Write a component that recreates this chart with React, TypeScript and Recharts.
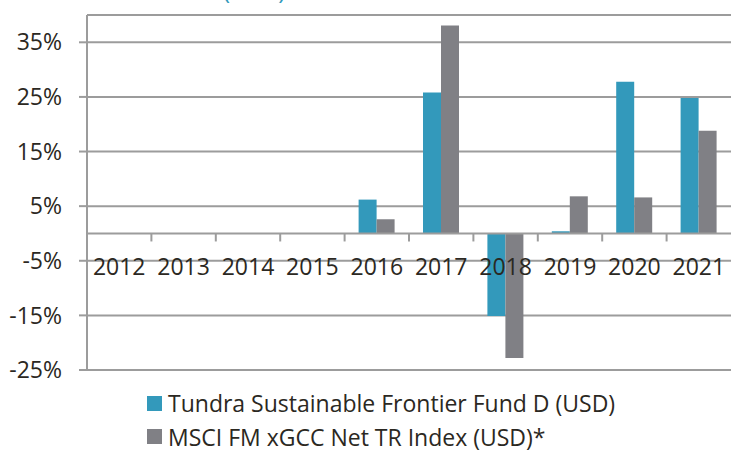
import React from 'react';
import { BarChart, Bar, XAxis, YAxis, CartesianGrid, ReferenceLine, Legend } from 'recharts';

const years = ['2012', '2013', '2014', '2015', '2016', '2017', '2018', '2019', '2020', '2021'];
const fundReturns = [null, null, null, null, 6.2, 25.8, -15.1, 0.4, 27.8, 24.8];
const indexReturns = [null, null, null, null, 2.6, 38.1, -22.8, 6.8, 6.6, 18.8];
const yTicks = [-25, -15, -5, 5, 15, 25, 35];

const FUND_NAME = 'Tundra Sustainable Frontier Fund D (USD)';
const INDEX_NAME = 'MSCI FM xGCC Net TR Index (USD)*';

const BLUE = '#3399bb';
const GREY = '#808085';
const TEXT = '#2b2822';
const LINE = '#9c9c9c';
const FONT = '"Open Sans", sans-serif';

// plot geometry (fixed so the year labels can sit on the zero line)
const W = 734;
const H = 452;
const TOP = 15;
const BOTTOM = 370;
const LEFT = 87;
const RIGHT = 731;
const X_AXIS_H = 20;
const DOMAIN: [number, number] = [-25, 40];
const zeroY = TOP + ((BOTTOM - TOP) * DOMAIN[1]) / (DOMAIN[1] - DOMAIN[0]);
const band = (RIGHT - LEFT) / years.length;

const data = years.map((year, i) => ({
  year,
  fund: fundReturns[i],
  index: indexReturns[i],
}));

const renderYearTick = (props: any) => {
  const { x, payload, index } = props;
  return (
    <g key={`yt-${index}`}>
      {index > 0 && (
        <line x1={x - band / 2} x2={x - band / 2} y1={zeroY} y2={zeroY + 8} stroke={LINE} strokeWidth={2} />
      )}
      <text x={x} y={zeroY + 42} textAnchor="middle" fill={TEXT} fontSize={23} fontFamily={FONT}>
        {payload.value}
      </text>
    </g>
  );
};

const LegendContent = () => (
  <div style={{ fontFamily: FONT, fontSize: 23, color: TEXT }}>
    {[
      { name: FUND_NAME, color: BLUE },
      { name: INDEX_NAME, color: GREY },
    ].map((item, i) => (
      <div
        key={item.name}
        style={{
          display: 'flex',
          alignItems: 'center',
          height: 24,
          lineHeight: '24px',
          marginTop: i === 0 ? 0 : 9.5,
          whiteSpace: 'nowrap',
        }}
      >
        <span style={{ width: 15, height: 15, background: item.color, marginRight: 6, display: 'inline-block' }} />
        {item.name}
      </div>
    ))}
  </div>
);

export default function App() {
  return (
    <div style={{ position: 'absolute', left: 0, top: 0, width: W, height: H, overflow: 'hidden', background: '#fff' }}>
      <div
        style={{
          position: 'absolute',
          left: 223,
          top: -22,
          fontFamily: FONT,
          fontSize: 24,
          lineHeight: 1,
          color: BLUE,
          whiteSpace: 'nowrap',
        }}
      >
        (USD)
      </div>
      <BarChart
        width={W}
        height={H}
        data={data}
        margin={{ top: TOP, right: W - RIGHT, bottom: H - BOTTOM - X_AXIS_H, left: 0 }}
        barGap={0}
        barSize={18}
      >
        <CartesianGrid vertical={false} stroke={LINE} strokeWidth={2} />
        <XAxis
          dataKey="year"
          height={X_AXIS_H}
          axisLine={false}
          tickLine={false}
          tick={renderYearTick}
          interval={0}
        />
        <YAxis
          width={LEFT}
          domain={DOMAIN}
          ticks={yTicks}
          interval={0}
          tickFormatter={(v: number) => `${v}%`}
          tick={{ fill: TEXT, fontSize: 23, fontFamily: FONT }}
          tickSize={8}
          tickMargin={17}
          axisLine={{ stroke: LINE, strokeWidth: 2 }}
          tickLine={{ stroke: LINE, strokeWidth: 2 }}
          allowDataOverflow
        />
        <ReferenceLine y={0} stroke={LINE} strokeWidth={2} />
        <Bar dataKey="fund" name={FUND_NAME} fill={BLUE} isAnimationActive={false} />
        <Bar dataKey="index" name={INDEX_NAME} fill={GREY} isAnimationActive={false} />
        <Legend
          layout="vertical"
          align="center"
          verticalAlign="middle"
          content={<LegendContent />}
          wrapperStyle={{ top: 391, left: 147, width: 'auto' }}
        />
      </BarChart>
    </div>
  );
}
